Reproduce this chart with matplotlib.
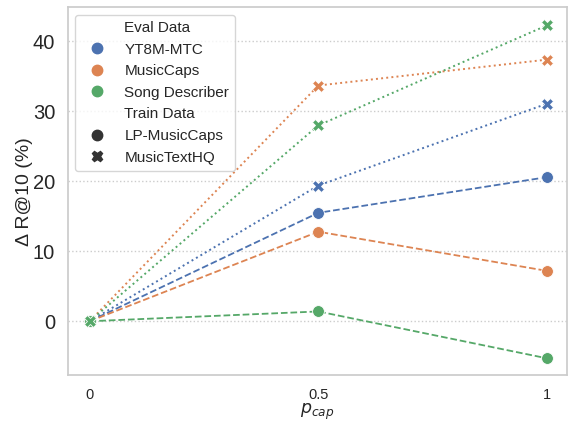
import numpy as np
import matplotlib.pyplot as plt
import seaborn as sns
from matplotlib.lines import Line2D

sns.set_theme(style="whitegrid")
plt.rcParams["font.family"] = ["Liberation Sans", "DejaVu Sans"]

p_cap = [0, 0.5, 1]
eval_sets = ["YT8M-MTC", "MusicCaps", "Song Describer"]
train_sets = ["LP-MusicCaps", "MusicTextHQ"]

# delta R@10 (%) per eval set, per train set
lp_musiccaps = {
    "YT8M-MTC": [0, 15.5, 20.6],
    "MusicCaps": [0, 12.8, 7.2],
    "Song Describer": [0, 1.4, -5.3],
}
music_text_hq = {
    "YT8M-MTC": [0, 19.4, 31.1],
    "MusicCaps": [0, 33.7, 37.4],
    "Song Describer": [0, 28.0, 42.3],
}

pal = sns.color_palette("deep")
colors = dict(zip(eval_sets, pal[:3]))

fig, ax = plt.subplots(figsize=(5.74, 4.21), dpi=100)

for name in eval_sets:
    ax.plot(p_cap, lp_musiccaps[name], ls="--", color=colors[name], lw=1.3,
            marker="o", ms=8.5, mec="white", mew=0.6)
    ax.plot(p_cap, music_text_hq[name], ls=":", color=colors[name], lw=1.4,
            marker="X", ms=9, mec="white", mew=0.6)

ax.set_xticks(p_cap)
ax.set_xticklabels(["0", "0.5", "1"], fontsize=10.5)
ax.tick_params(axis="y", labelsize=14.5, pad=3)
ax.tick_params(axis="x", pad=3)
ax.set_xlim(-0.048, 1.044)
ax.set_ylim(-7.7, 44.9)
ax.set_yticks([0, 10, 20, 30, 40])
ax.grid(axis="x", visible=False)
ax.grid(axis="y", ls=":", color="#cccccc", lw=1)
ax.set_xlabel(r"$p_{cap}$", fontsize=12.5, labelpad=0)
ax.set_ylabel("Δ R@10 (%)", fontsize=14, labelpad=0)

handles = [Line2D([], [], ls="none", label="Eval Data")]
for name in eval_sets:
    handles.append(Line2D([], [], ls="none", marker="o", ms=7.5,
                          color=colors[name], label=name))
handles.append(Line2D([], [], ls="none", label="Train Data"))
handles.append(Line2D([], [], ls="none", marker="o", ms=7.5, color="#333333",
                      label="LP-MusicCaps"))
handles.append(Line2D([], [], ls="none", marker="X", ms=7.5, color="#333333",
                      label="MusicTextHQ"))
ax.legend(handles=handles, loc="upper left", fontsize=11, frameon=True,
          handletextpad=0.8, handlelength=2.0, borderpad=0.4,
          labelspacing=0.5)

fig.subplots_adjust(left=0.118, right=0.988, top=0.983, bottom=0.109)
fig.savefig("out.png", dpi=100)
